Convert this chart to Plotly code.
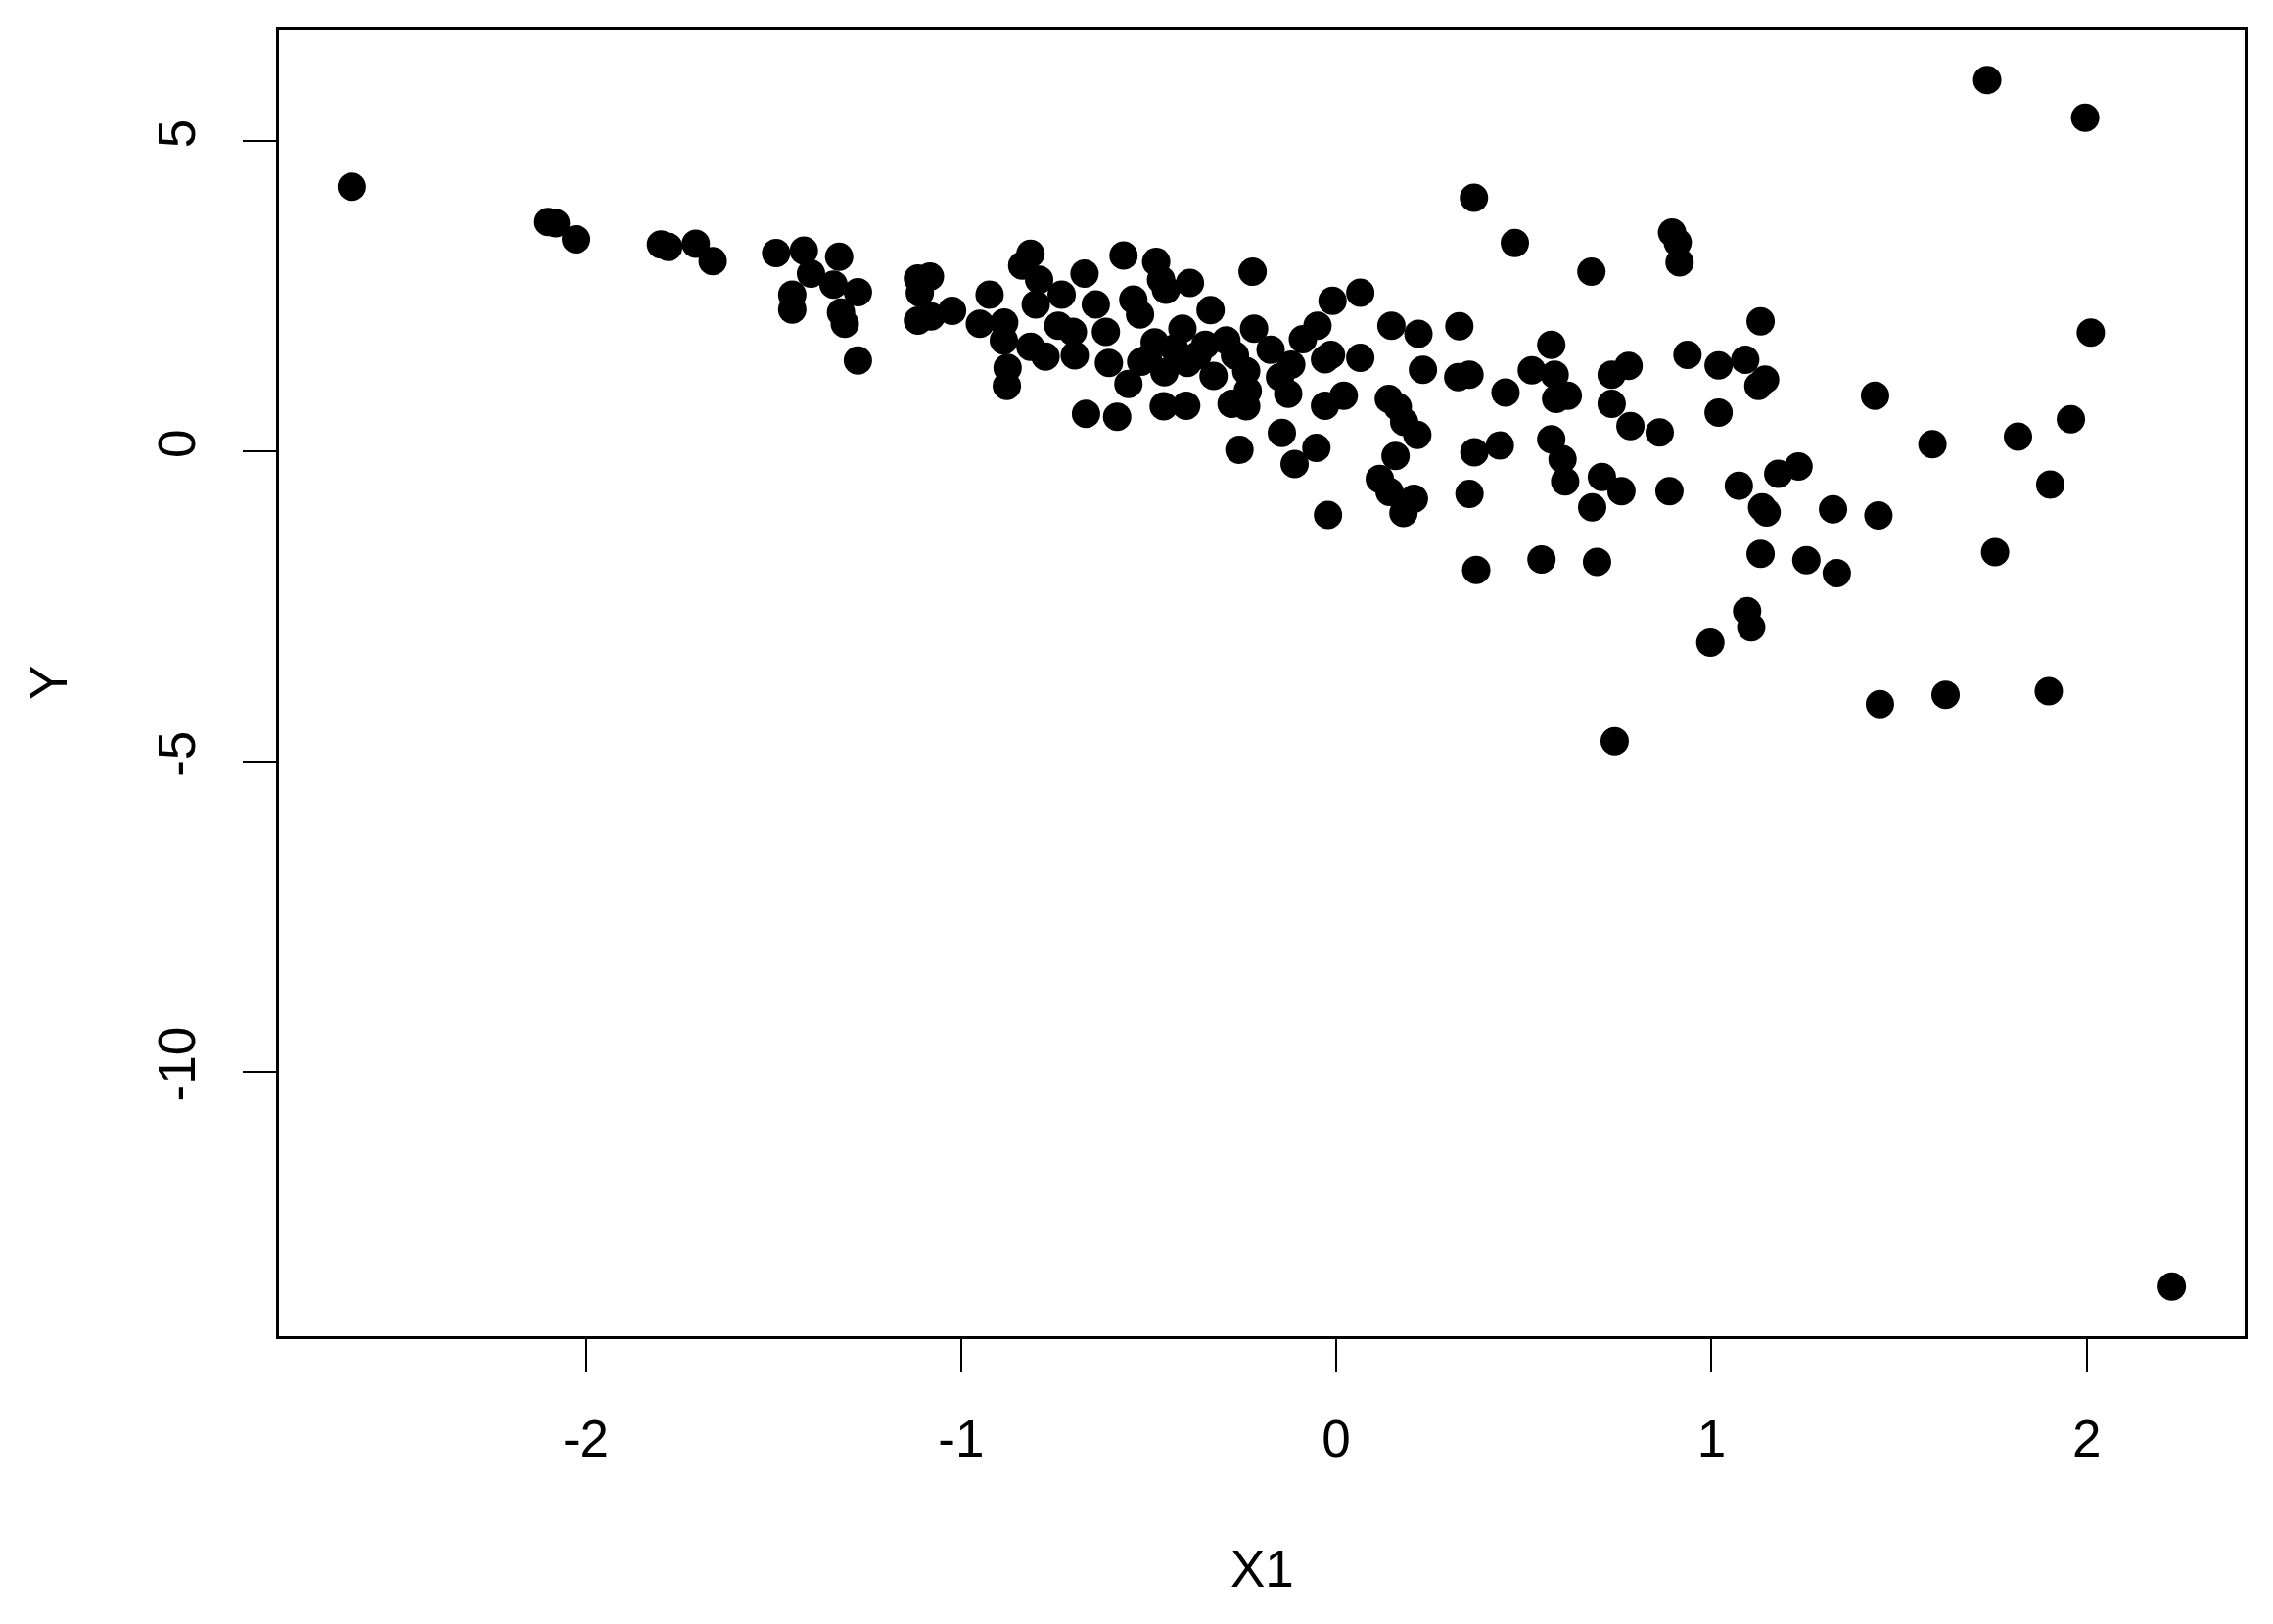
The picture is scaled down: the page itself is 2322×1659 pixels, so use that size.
import plotly.graph_objects as go

# scatter of Y against X1
x1 = [
    -2.624, -2.10, -2.08, -2.026, -1.80, -1.78, -1.707, -1.662, -1.493, -1.419,
    -1.325, -1.40, -1.34, -1.275, -1.45, -1.45, -1.32, -1.31, -1.275,
    -1.115, -1.083, -1.11, -1.115, -1.08, -1.024, -0.924, -0.95, -0.885, -0.886,
    -0.815, -0.837, -0.792, -0.732, -0.801, -0.876, -0.878, -0.815, -0.775,
    -0.741, -0.702, -0.697, -0.671, -0.641, -0.614, -0.606, -0.567, -0.541,
    -0.523, -0.554, -0.667, -0.584, -0.48, -0.467, -0.454, -0.39, -0.335,
    -0.41, -0.432, -0.484, -0.502, -0.458, -0.397, -0.46, -0.40, -0.349,
    -0.293, -0.327, -0.223, -0.219, -0.24, -0.236, -0.279, -0.24, -0.175,
    -0.258, -0.145, -0.128, -0.12, -0.089, -0.05, -0.111, -0.053, -0.01,
    0.064, -0.03, 0.02, -0.03, -0.014, 0.064, -0.022, -0.52, -0.37, -0.27,
    -0.15,
    0.367, 0.476, 0.68, 0.895, 0.91, 0.915, 0.147, 0.219, 0.328, 0.231,
    0.325, 0.355, 0.451, 0.573, 0.521, 0.582, 0.586, 0.617, 0.734, 0.779,
    0.734, 0.784, 0.862, 0.936, 1.019, 1.09, 1.131, 1.143, 1.125, 1.019,
    0.14, 0.164, 0.181, 0.216, 0.158, 0.116, 0.142, 0.207, 0.179, 0.368,
    0.436, 0.355, 0.573, 0.603, 0.61, 0.708, 0.76, 0.682, 0.888, 1.073,
    1.178, 1.232, 1.135, 1.147, 1.324, 0.373, 0.547, 0.695, 1.131, 1.253,
    1.334, 1.095, 1.106, 0.997,
    1.735, 1.996, 2.011, 1.436, 1.589, 1.817, 1.958, 1.903, 1.445, 1.756,
    1.449, 1.624, 1.899, 0.742, 2.227,
]
y = [
    4.27, 3.70, 3.68, 3.42, 3.34, 3.30, 3.35, 3.07, 3.20, 3.24,
    3.14, 2.87, 2.69, 2.57, 2.53, 2.29, 2.24, 2.06, 1.47,
    2.79, 2.82, 2.56, 2.11, 2.18, 2.27, 2.53, 2.06, 2.08, 1.79,
    3.19, 3.00, 2.77, 2.53, 2.37, 1.35, 1.06, 1.69, 1.53,
    2.03, 1.93, 1.55, 2.87, 2.37, 1.93, 1.43, 3.16, 2.45,
    2.21, 1.09, 0.61, 0.56, 3.06, 2.77, 2.61, 2.72, 2.28,
    1.98, 1.66, 1.76, 1.50, 1.28, 1.43, 0.73, 0.74, 1.72,
    1.79, 1.22, 2.90, 1.98, 1.30, 0.98, 0.77, 0.73, 1.64,
    0.03, 0.30, 0.93, 1.40, 1.81, 2.03, -0.20, 0.06, 2.43,
    2.56, 0.74, 0.90, 1.49, 1.56, 1.51, -1.02, 1.45, 1.55, 1.55,
    1.20,
    4.09, 3.36, 2.90, 3.53, 3.37, 3.05, 2.03, 1.90, 2.02, 1.32,
    1.20, 1.24, 0.95, 1.72, 1.31, 1.24, 0.85, 0.90, 1.24, 1.38,
    0.77, 0.41, 0.31, 1.56, 1.39, 1.48, 2.10, 1.16, 1.06, 0.63,
    0.85, 0.72, 0.48, 0.27, -0.07, -0.44, -0.65, -0.76, -0.99, -0.01,
    0.10, -0.68, 0.20, -0.12, -0.48, -0.41, -0.64, -0.90, -0.64, -0.55,
    -0.36, -0.24, -0.90, -0.98, -0.93, -1.91, -1.74, -1.78, -1.65, -1.75,
    -1.96, -2.57, -2.83, -3.08,
    5.99, 5.38, 1.92, 0.90, 0.12, 0.24, 0.52, -0.53, -1.03, -1.62,
    -4.07, -3.92, -3.86, -4.67, -13.46,
]

x_ticks = [-2, -1, 0, 1, 2]
x_tick_labels = ["-2", "-1", "0", "1", "2"]
y_ticks = [-10, -5, 0, 5]
y_tick_labels = ["-10", "-5", "0", "5"]

FONT = "Liberation Sans, Arial, sans-serif"

fig = go.Figure()
fig.add_trace(
    go.Scatter(
        x=x1,
        y=y,
        mode="markers",
        marker=dict(color="black", size=29, line_width=0),
        showlegend=False,
    )
)

axis_common = dict(
    showgrid=False,
    zeroline=False,
    showline=True,
    linecolor="black",
    linewidth=3,
    mirror=True,
    ticks="outside",
    ticklen=34,
    tickwidth=2,
    tickcolor="black",
    tickfont=dict(family=FONT, size=53, color="black"),
)

# the page body has an 8px margin, so the margins are shifted by that
fig.update_layout(
    width=2322,
    height=1659,
    margin=dict(l=277, r=37, t=23, b=302),
    paper_bgcolor="white",
    plot_bgcolor="white",
    font=dict(family=FONT, size=53, color="black"),
    xaxis=dict(
        range=[-2.818, 2.421],
        tickvals=x_ticks,
        ticktext=x_tick_labels,
        ticklabelstandoff=22,
        **axis_common,
    ),
    yaxis=dict(
        range=[-14.26, 6.79],
        tickvals=y_ticks,
        ticktext=y_tick_labels,
        tickangle=-90,
        ticklabelstandoff=28,
        **axis_common,
    ),
    annotations=[
        dict(
            text="X1", xref="paper", yref="paper", x=0.5, y=0,
            yshift=-237, xanchor="center", yanchor="middle",
            showarrow=False, font=dict(family=FONT, size=53, color="black"),
        ),
        dict(
            text="Y", xref="paper", yref="paper", x=0, y=0.5,
            xshift=-236, xanchor="center", yanchor="middle", textangle=-90,
            showarrow=False, font=dict(family=FONT, size=53, color="black"),
        ),
    ],
)

fig.write_html("out.html")
